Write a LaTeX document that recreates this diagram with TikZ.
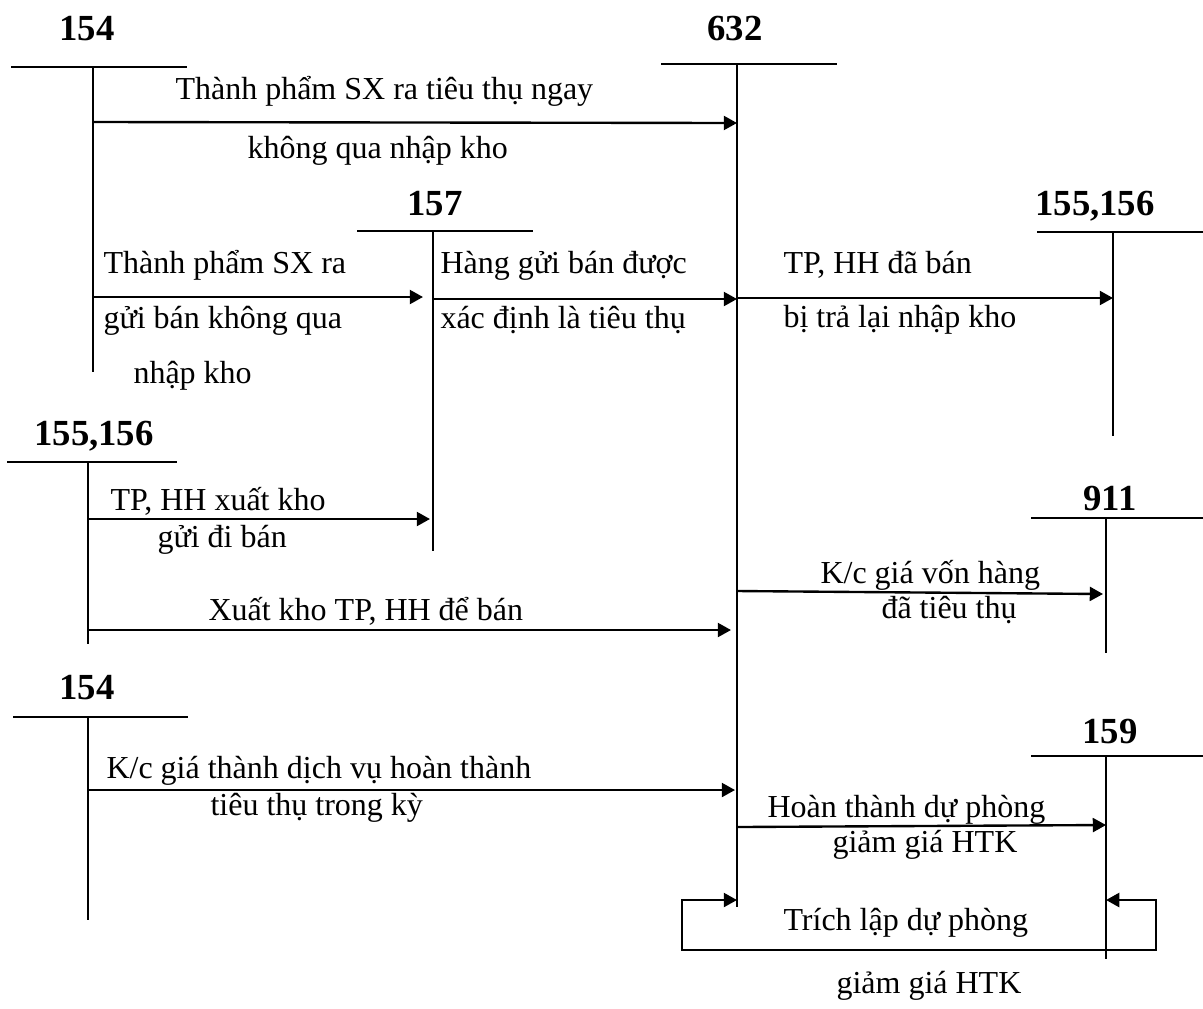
\documentclass[tikz,border=0pt]{standalone}
\usepackage{fontspec}
\setmainfont{Liberation Serif}
\usepackage{tikz}
\usetikzlibrary{arrows.meta}

\begin{document}
\begin{tikzpicture}[x=0.4pt,y=-0.4pt,>={Triangle[length=5.3pt,width=5.6pt]},
  font=\fontsize{12.8}{15}\selectfont,
  acc/.style={anchor=base,inner sep=0pt,font=\fontsize{14.7}{17}\selectfont\bfseries},
  lbl/.style={anchor=base west,inner sep=0pt},
  tline/.style={line width=0.75pt},
  flow/.style={->,line width=0.95pt}]
\useasboundingbox (0,0) rectangle (1203,1008);
% T accounts
\node[acc] (n154a) at (87,40) {154};
\coordinate (a154a) at (93,67);
\draw[tline] (11,67) -- (187,67) (a154a) -- (93,372);
\node[acc] (n632) at (735,40) {632};
\coordinate (a632) at (737,64);
\draw[tline] (661,64) -- (837,64) (a632) -- (737,907);
\node[acc] (n157) at (435,215) {157};
\coordinate (a157) at (433,231);
\draw[tline] (357,231) -- (533,231) (a157) -- (433,551);
\node[acc] (n155r) at (1095,215) {155,156};
\coordinate (a155r) at (1113,232);
\draw[tline] (1037,232) -- (1203,232) (a155r) -- (1113,436);
\node[acc] (n155l) at (94,445) {155,156};
\coordinate (a155l) at (88,462);
\draw[tline] (7,462) -- (177,462) (a155l) -- (88,644);
\node[acc] (n911) at (1110,510) {911};
\coordinate (a911) at (1106,518);
\draw[tline] (1031,518) -- (1203,518) (a911) -- (1106,653);
\node[acc] (n154b) at (87,699) {154};
\coordinate (a154b) at (88,717);
\draw[tline] (13,717) -- (188,717) (a154b) -- (88,920);
\node[acc] (n159) at (1110,743) {159};
\coordinate (a159) at (1106,756);
\draw[tline] (1031,756) -- (1203,756) (a159) -- (1106,959);

% flows
\draw[flow] (a154a |- 0,122) -- (a632 |- 0,123);
\node[lbl] (t1a) at (175,99) {Thành phẩm SX ra tiêu thụ ngay};
\node[lbl] (t1b) at (247,158) {không qua nhập kho};
\draw[flow] (a154a |- 0,297) -- (423,297);
\node[lbl] (t2a) at (103,273) {Thành phẩm SX ra};
\node[lbl] (t2b) at (103,328) {gửi bán không qua};
\node[lbl] (t2c) at (133,383) {nhập kho};
\draw[flow] (a157 |- 0,299) -- (a632 |- 0,299);
\node[lbl] (t3a) at (440,273) {Hàng gửi bán được};
\node[lbl] (t3b) at (440,328) {xác định là tiêu thụ};
\draw[flow] (a632 |- 0,298) -- (a155r |- 0,298);
\node[lbl] (t4a) at (783,273) {TP, HH đã bán};
\node[lbl] (t4b) at (783,327) {bị trả lại nhập kho};
\draw[flow] (a155l |- 0,519) -- (430,519);
\node[lbl] (t5a) at (110,510) {TP, HH xuất kho};
\node[lbl] (t5b) at (157,547) {gửi đi bán};
\draw[flow] (a155l |- 0,630) -- (731,630);
\node[lbl] (t6) at (208,620) {Xuất kho TP, HH để bán};
\draw[flow] (a632 |- 0,591) -- (1103,594);
\node[lbl] (t7a) at (820,583) {K/c giá vốn hàng};
\node[lbl] (t7b) at (881,618) {đã tiêu thụ};
\draw[flow] (a154b |- 0,790) -- (735,790);
\node[lbl] (t8a) at (106,778) {K/c giá thành dịch vụ hoàn thành};
\node[lbl] (t8b) at (210,815) {tiêu thụ trong kỳ};
\draw[flow] (a632 |- 0,827) -- (a159 |- 0,825);
\node[lbl] (t9a) at (767,817) {Hoàn thành dự phòng};
\node[lbl] (t9b) at (832,852) {giảm giá HTK};
\draw[flow,<->] (a632 |- 0,900) -- (682,900) -- (682,950) -- (1156,950) -- (1156,900) -- (a159 |- 0,900);
\node[lbl] (t10a) at (783,930) {Trích lập dự phòng};
\node[lbl] (t10b) at (836,993) {giảm giá HTK};
\end{tikzpicture}
\end{document}
